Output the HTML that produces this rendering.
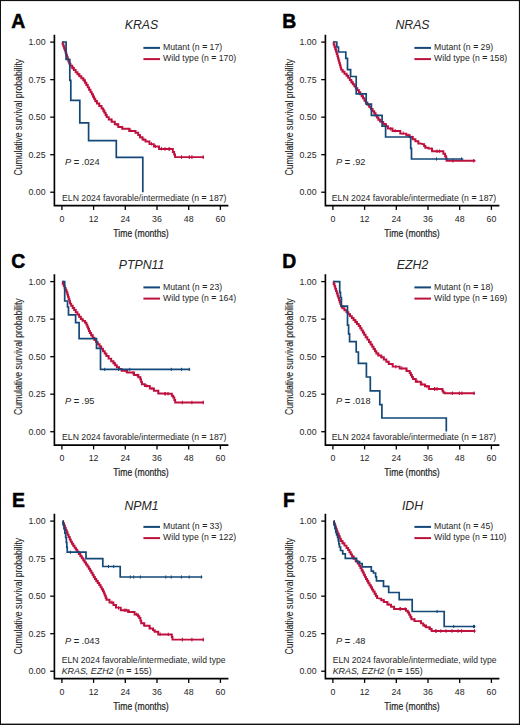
<!DOCTYPE html><html><head><meta charset="utf-8"><style>html,body{margin:0;padding:0;background:#fff;}svg{display:block;}text{font-family:"Liberation Sans",sans-serif;fill:#262626;}</style></head><body>
<svg width="520" height="725" viewBox="0 0 520 725">
<rect x="0" y="0" width="520" height="725" fill="#fff"/>
<rect x="0" y="0" width="520" height="1.1" fill="#111"/><rect x="0" y="0" width="1.0" height="725" fill="#111"/><rect x="518.9" y="0" width="1.1" height="725" fill="#111"/><rect x="0" y="723.6" width="520" height="1.4" fill="#111"/>
<g><text x="11.20" y="28.20" style="font-size:19.4px;font-weight:bold;fill:#000;stroke:#000;stroke-width:0.5">A</text><text x="141.50" y="29.10" text-anchor="middle" style="font-size:12.3px;font-style:italic">KRAS</text><line x1="143.4" y1="47.9" x2="160" y2="47.9" stroke="#134878" stroke-width="2"/><line x1="143.4" y1="59.1" x2="160" y2="59.1" stroke="#be113e" stroke-width="2"/><text x="163" y="50.2" style="font-size:8.7px">Mutant (n <tspan style="font-weight:bold">=</tspan> 17)</text><text x="163" y="61.0" style="font-size:8.7px">Wild type (n <tspan style="font-weight:bold">=</tspan> 170)</text><text transform="translate(21.50,117.20) rotate(-90) scale(0.767,1)" x="0" y="0" text-anchor="middle" style="font-size:11.3px;stroke:#262626;stroke-width:0.12">Cumulative survival probability</text><path d="M54.40 34.70 V205.60 H228.40" fill="none" stroke="#000" stroke-width="1.65"/><line x1="50.2" y1="42.10" x2="54.40" y2="42.10" stroke="#000" stroke-width="1.3"/><text x="45.6" y="45.30" text-anchor="end" style="font-size:8.8px">1.00</text><line x1="50.2" y1="79.63" x2="54.40" y2="79.63" stroke="#000" stroke-width="1.3"/><text x="45.6" y="82.83" text-anchor="end" style="font-size:8.8px">0.75</text><line x1="50.2" y1="117.16" x2="54.40" y2="117.16" stroke="#000" stroke-width="1.3"/><text x="45.6" y="120.36" text-anchor="end" style="font-size:8.8px">0.50</text><line x1="50.2" y1="154.69" x2="54.40" y2="154.69" stroke="#000" stroke-width="1.3"/><text x="45.6" y="157.89" text-anchor="end" style="font-size:8.8px">0.25</text><line x1="50.2" y1="192.22" x2="54.40" y2="192.22" stroke="#000" stroke-width="1.3"/><text x="45.6" y="195.42" text-anchor="end" style="font-size:8.8px">0.00</text><line x1="61.90" y1="205.60" x2="61.90" y2="209.90" stroke="#000" stroke-width="1.3"/><text x="61.90" y="221.80" text-anchor="middle" style="font-size:8.8px">0</text><line x1="93.60" y1="205.60" x2="93.60" y2="209.90" stroke="#000" stroke-width="1.3"/><text x="93.60" y="221.80" text-anchor="middle" style="font-size:8.8px">12</text><line x1="125.30" y1="205.60" x2="125.30" y2="209.90" stroke="#000" stroke-width="1.3"/><text x="125.30" y="221.80" text-anchor="middle" style="font-size:8.8px">24</text><line x1="157.00" y1="205.60" x2="157.00" y2="209.90" stroke="#000" stroke-width="1.3"/><text x="157.00" y="221.80" text-anchor="middle" style="font-size:8.8px">36</text><line x1="188.70" y1="205.60" x2="188.70" y2="209.90" stroke="#000" stroke-width="1.3"/><text x="188.70" y="221.80" text-anchor="middle" style="font-size:8.8px">48</text><line x1="220.40" y1="205.60" x2="220.40" y2="209.90" stroke="#000" stroke-width="1.3"/><text x="220.40" y="221.80" text-anchor="middle" style="font-size:8.8px">60</text><text transform="translate(141.00,236.90) scale(0.767,1)" x="0" y="0" text-anchor="middle" style="font-size:11.3px;stroke:#262626;stroke-width:0.25">Time (months)</text><text x="64.9" y="164.90" style="font-size:9.25px"><tspan style="font-style:italic">P</tspan> <tspan style="font-weight:bold">=</tspan> .024</text><text x="62.00" y="200.70" style="font-size:8.7px">ELN 2024 favorable/intermediate (n <tspan style="font-weight:bold">=</tspan> 187)</text><path d="M62.30 42.00 H62.66 V44.16 H63.39 V46.32 H64.12 V48.48 H64.85 V50.64 H65.58 V52.80 H66.31 V54.96 H67.05 V57.12 H67.77 V59.28 H68.50 V61.44 H69.23 V63.60 H69.60 H70.46 V65.75 H72.19 V67.90 H73.91 V70.05 H75.64 V72.20 H76.50 H77.47 V74.22 H79.42 V76.25 H81.38 V78.28 H83.33 V80.30 H84.30 H84.99 V82.66 H86.37 V85.02 H87.75 V87.38 H89.13 V89.74 H90.51 V92.10 H91.20 H91.78 V94.32 H92.92 V96.55 H94.08 V98.78 H95.22 V101.00 H95.80 H96.95 V103.50 H99.25 V106.00 H101.55 V108.50 H102.70 H103.28 V110.65 H104.42 V112.80 H105.58 V114.95 H106.72 V117.10 H107.30 H108.75 V119.40 H111.65 V121.70 H113.10 H114.82 V124.30 H118.28 V126.90 H120.00 H122.30 V128.70 H124.60 H129.20 V131.00 H133.80 H135.55 V132.70 H137.30 H138.18 V135.00 H139.93 V137.30 H140.80 H142.50 V139.60 H144.20 H145.55 V141.50 H146.90 H149.50 V144.10 H152.10 H153.85 V146.40 H155.60 H159.05 V149.00 H162.50 L172.00 149.00 H172.85 V151.90 H173.70 H174.15 V154.50 H175.05 V157.10 H175.50 L204.00 157.10" fill="none" stroke="#be113e" stroke-width="1.95" stroke-linejoin="miter"/><line x1="63.58" y1="44.09" x2="63.58" y2="47.49" stroke="#be113e" stroke-width="1"/><line x1="65.60" y1="50.05" x2="65.60" y2="53.45" stroke="#be113e" stroke-width="1"/><line x1="68.28" y1="58.00" x2="68.28" y2="61.40" stroke="#be113e" stroke-width="1"/><line x1="69.63" y1="61.93" x2="69.63" y2="65.33" stroke="#be113e" stroke-width="1"/><line x1="73.01" y1="66.15" x2="73.01" y2="69.55" stroke="#be113e" stroke-width="1"/><line x1="78.75" y1="72.83" x2="78.75" y2="76.23" stroke="#be113e" stroke-width="1"/><line x1="83.82" y1="78.11" x2="83.82" y2="81.51" stroke="#be113e" stroke-width="1"/><line x1="86.30" y1="82.01" x2="86.30" y2="85.41" stroke="#be113e" stroke-width="1"/><line x1="89.19" y1="86.97" x2="89.19" y2="90.37" stroke="#be113e" stroke-width="1"/><line x1="93.23" y1="94.33" x2="93.23" y2="97.73" stroke="#be113e" stroke-width="1"/><line x1="96.21" y1="99.75" x2="96.21" y2="103.15" stroke="#be113e" stroke-width="1"/><line x1="99.02" y1="102.80" x2="99.02" y2="106.20" stroke="#be113e" stroke-width="1"/><line x1="104.14" y1="109.48" x2="104.14" y2="112.88" stroke="#be113e" stroke-width="1"/><line x1="106.33" y1="113.58" x2="106.33" y2="116.98" stroke="#be113e" stroke-width="1"/><line x1="111.33" y1="118.60" x2="111.33" y2="122.00" stroke="#be113e" stroke-width="1"/><line x1="116.97" y1="122.91" x2="116.97" y2="126.31" stroke="#be113e" stroke-width="1"/><line x1="122.33" y1="126.11" x2="122.33" y2="129.51" stroke="#be113e" stroke-width="1"/><line x1="130.79" y1="128.55" x2="130.79" y2="131.95" stroke="#be113e" stroke-width="1"/><line x1="135.40" y1="130.08" x2="135.40" y2="133.48" stroke="#be113e" stroke-width="1"/><line x1="140.27" y1="134.91" x2="140.27" y2="138.31" stroke="#be113e" stroke-width="1"/><line x1="143.86" y1="137.67" x2="143.86" y2="141.07" stroke="#be113e" stroke-width="1"/><line x1="151.48" y1="142.09" x2="151.48" y2="145.49" stroke="#be113e" stroke-width="1"/><line x1="155.47" y1="144.61" x2="155.47" y2="148.01" stroke="#be113e" stroke-width="1"/><line x1="161.59" y1="146.96" x2="161.59" y2="150.36" stroke="#be113e" stroke-width="1"/><line x1="169.69" y1="147.30" x2="169.69" y2="150.70" stroke="#be113e" stroke-width="1"/><line x1="165" y1="147.2" x2="165" y2="150.8" stroke="#be113e" stroke-width="1.1"/><line x1="169" y1="147.2" x2="169" y2="150.8" stroke="#be113e" stroke-width="1.1"/><line x1="181.5" y1="155.29999999999998" x2="181.5" y2="158.9" stroke="#be113e" stroke-width="1.1"/><line x1="189.3" y1="155.29999999999998" x2="189.3" y2="158.9" stroke="#be113e" stroke-width="1.1"/><line x1="191.9" y1="155.29999999999998" x2="191.9" y2="158.9" stroke="#be113e" stroke-width="1.1"/><line x1="203.2" y1="155.29999999999998" x2="203.2" y2="158.9" stroke="#be113e" stroke-width="1.1"/><path d="M62.3 42 H66.1 V59.5 H69.8 V80.3 H70.8 V100.4 H79.8 V122.8 H88.6 V140.6 H116.3 V157.4 H142.8 V192.2" fill="none" stroke="#134878" stroke-width="1.7" stroke-linejoin="miter"/></g>
<g><text x="282.20" y="28.20" style="font-size:19.4px;font-weight:bold;fill:#000;stroke:#000;stroke-width:0.5">B</text><text x="412.50" y="29.10" text-anchor="middle" style="font-size:12.3px;font-style:italic">NRAS</text><line x1="414.4" y1="47.9" x2="431" y2="47.9" stroke="#134878" stroke-width="2"/><line x1="414.4" y1="59.1" x2="431" y2="59.1" stroke="#be113e" stroke-width="2"/><text x="434" y="50.2" style="font-size:8.7px">Mutant (n <tspan style="font-weight:bold">=</tspan> 29)</text><text x="434" y="61.0" style="font-size:8.7px">Wild type (n <tspan style="font-weight:bold">=</tspan> 158)</text><text transform="translate(292.50,117.20) rotate(-90) scale(0.767,1)" x="0" y="0" text-anchor="middle" style="font-size:11.3px;stroke:#262626;stroke-width:0.12">Cumulative survival probability</text><path d="M325.40 34.70 V205.60 H499.40" fill="none" stroke="#000" stroke-width="1.65"/><line x1="321.2" y1="42.10" x2="325.40" y2="42.10" stroke="#000" stroke-width="1.3"/><text x="316.6" y="45.30" text-anchor="end" style="font-size:8.8px">1.00</text><line x1="321.2" y1="79.63" x2="325.40" y2="79.63" stroke="#000" stroke-width="1.3"/><text x="316.6" y="82.83" text-anchor="end" style="font-size:8.8px">0.75</text><line x1="321.2" y1="117.16" x2="325.40" y2="117.16" stroke="#000" stroke-width="1.3"/><text x="316.6" y="120.36" text-anchor="end" style="font-size:8.8px">0.50</text><line x1="321.2" y1="154.69" x2="325.40" y2="154.69" stroke="#000" stroke-width="1.3"/><text x="316.6" y="157.89" text-anchor="end" style="font-size:8.8px">0.25</text><line x1="321.2" y1="192.22" x2="325.40" y2="192.22" stroke="#000" stroke-width="1.3"/><text x="316.6" y="195.42" text-anchor="end" style="font-size:8.8px">0.00</text><line x1="332.90" y1="205.60" x2="332.90" y2="209.90" stroke="#000" stroke-width="1.3"/><text x="332.90" y="221.80" text-anchor="middle" style="font-size:8.8px">0</text><line x1="364.60" y1="205.60" x2="364.60" y2="209.90" stroke="#000" stroke-width="1.3"/><text x="364.60" y="221.80" text-anchor="middle" style="font-size:8.8px">12</text><line x1="396.30" y1="205.60" x2="396.30" y2="209.90" stroke="#000" stroke-width="1.3"/><text x="396.30" y="221.80" text-anchor="middle" style="font-size:8.8px">24</text><line x1="428.00" y1="205.60" x2="428.00" y2="209.90" stroke="#000" stroke-width="1.3"/><text x="428.00" y="221.80" text-anchor="middle" style="font-size:8.8px">36</text><line x1="459.70" y1="205.60" x2="459.70" y2="209.90" stroke="#000" stroke-width="1.3"/><text x="459.70" y="221.80" text-anchor="middle" style="font-size:8.8px">48</text><line x1="491.40" y1="205.60" x2="491.40" y2="209.90" stroke="#000" stroke-width="1.3"/><text x="491.40" y="221.80" text-anchor="middle" style="font-size:8.8px">60</text><text transform="translate(412.00,236.90) scale(0.767,1)" x="0" y="0" text-anchor="middle" style="font-size:11.3px;stroke:#262626;stroke-width:0.25">Time (months)</text><text x="335.9" y="164.90" style="font-size:9.25px"><tspan style="font-style:italic">P</tspan> <tspan style="font-weight:bold">=</tspan> .92</text><text x="331.80" y="200.70" style="font-size:8.7px">ELN 2024 favorable/intermediate (n <tspan style="font-weight:bold">=</tspan> 187)</text><path d="M333.30 42.00 H333.68 V44.40 H334.44 V46.80 H335.20 V49.20 H335.96 V51.60 H336.72 V54.00 H337.10 H337.41 V56.23 H338.02 V58.46 H338.64 V60.69 H339.25 V62.91 H339.86 V65.14 H340.48 V67.37 H341.09 V69.60 H341.40 H342.42 V71.63 H344.45 V73.67 H346.48 V75.70 H347.50 H348.26 V77.85 H349.79 V80.00 H351.31 V82.15 H352.84 V84.30 H353.60 H354.35 V86.25 H355.85 V88.20 H357.35 V90.15 H358.85 V92.10 H359.60 H360.29 V94.18 H361.67 V96.26 H363.05 V98.34 H364.43 V100.42 H365.81 V102.50 H366.50 H367.38 V104.67 H369.12 V106.85 H370.88 V109.03 H372.62 V111.20 H373.50 H374.19 V113.33 H375.56 V115.45 H376.94 V117.58 H378.31 V119.70 H379.00 H380.43 V121.85 H383.27 V124.00 H384.70 H385.77 V126.20 H387.93 V128.40 H389.00 H392.50 V131.00 H396.00 H400.30 V133.60 H404.60 H406.33 V135.30 H409.77 V137.00 H411.50 H412.80 V139.15 H415.40 V141.30 H416.70 H418.35 V143.40 H420.00 L423.50 144.20 H424.12 V145.95 H425.38 V147.70 H426.00 H428.60 V148.60 H431.20 H432.10 V151.20 H433.00 L442.50 151.20 H443.35 V153.70 H444.20 H445.10 V156.30 H446.00 H446.20 V158.55 H446.60 V160.80 H446.80 L475.40 160.80" fill="none" stroke="#be113e" stroke-width="1.95" stroke-linejoin="miter"/><line x1="334.51" y1="44.11" x2="334.51" y2="47.51" stroke="#be113e" stroke-width="1"/><line x1="335.93" y1="48.60" x2="335.93" y2="52.00" stroke="#be113e" stroke-width="1"/><line x1="338.43" y1="57.13" x2="338.43" y2="60.53" stroke="#be113e" stroke-width="1"/><line x1="340.35" y1="64.08" x2="340.35" y2="67.48" stroke="#be113e" stroke-width="1"/><line x1="343.01" y1="69.51" x2="343.01" y2="72.91" stroke="#be113e" stroke-width="1"/><line x1="347.59" y1="74.13" x2="347.59" y2="77.53" stroke="#be113e" stroke-width="1"/><line x1="352.07" y1="80.44" x2="352.07" y2="83.84" stroke="#be113e" stroke-width="1"/><line x1="354.64" y1="83.95" x2="354.64" y2="87.35" stroke="#be113e" stroke-width="1"/><line x1="358.89" y1="89.47" x2="358.89" y2="92.87" stroke="#be113e" stroke-width="1"/><line x1="362.47" y1="94.72" x2="362.47" y2="98.12" stroke="#be113e" stroke-width="1"/><line x1="364.82" y1="98.27" x2="364.82" y2="101.67" stroke="#be113e" stroke-width="1"/><line x1="369.82" y1="104.92" x2="369.82" y2="108.32" stroke="#be113e" stroke-width="1"/><line x1="374.71" y1="111.37" x2="374.71" y2="114.77" stroke="#be113e" stroke-width="1"/><line x1="379.47" y1="118.35" x2="379.47" y2="121.75" stroke="#be113e" stroke-width="1"/><line x1="386.09" y1="123.73" x2="386.09" y2="127.13" stroke="#be113e" stroke-width="1"/><line x1="390.65" y1="127.31" x2="390.65" y2="130.71" stroke="#be113e" stroke-width="1"/><line x1="395.13" y1="128.98" x2="395.13" y2="132.38" stroke="#be113e" stroke-width="1"/><line x1="403.12" y1="131.45" x2="403.12" y2="134.85" stroke="#be113e" stroke-width="1"/><line x1="408.33" y1="133.74" x2="408.33" y2="137.14" stroke="#be113e" stroke-width="1"/><line x1="412.15" y1="135.84" x2="412.15" y2="139.24" stroke="#be113e" stroke-width="1"/><line x1="418.41" y1="140.69" x2="418.41" y2="144.09" stroke="#be113e" stroke-width="1"/><line x1="424.50" y1="143.90" x2="424.50" y2="147.30" stroke="#be113e" stroke-width="1"/><line x1="431.64" y1="147.54" x2="431.64" y2="150.94" stroke="#be113e" stroke-width="1"/><line x1="439.53" y1="149.50" x2="439.53" y2="152.90" stroke="#be113e" stroke-width="1"/><line x1="437" y1="149.39999999999998" x2="437" y2="153.0" stroke="#be113e" stroke-width="1.1"/><line x1="452.9" y1="159.0" x2="452.9" y2="162.60000000000002" stroke="#be113e" stroke-width="1.1"/><line x1="473.7" y1="159.0" x2="473.7" y2="162.60000000000002" stroke="#be113e" stroke-width="1.1"/><path d="M333.3 42 H336.8 V47 H338.5 V52 H345.8 V58.4 H347.5 V69.6 H350.6 V76.5 H356.2 V93.8 H366.2 V104.2 H371.4 V115.4 H382.1 V126.1 H385.6 V137 H410.7 V148.3 H411.5 V159 H463.3" fill="none" stroke="#134878" stroke-width="1.7" stroke-linejoin="miter"/><line x1="436.5" y1="157.4" x2="436.5" y2="160.6" stroke="#134878" stroke-width="1.0"/><line x1="461.5" y1="157.4" x2="461.5" y2="160.6" stroke="#134878" stroke-width="1.0"/></g>
<g><text x="11.20" y="267.70" style="font-size:19.4px;font-weight:bold;fill:#000;stroke:#000;stroke-width:0.5">C</text><text x="141.50" y="269.40" text-anchor="middle" style="font-size:12.3px;font-style:italic">PTPN11</text><line x1="143.4" y1="287.4" x2="160" y2="287.4" stroke="#134878" stroke-width="2"/><line x1="143.4" y1="298.6" x2="160" y2="298.6" stroke="#be113e" stroke-width="2"/><text x="163" y="289.7" style="font-size:8.7px">Mutant (n <tspan style="font-weight:bold">=</tspan> 23)</text><text x="163" y="300.5" style="font-size:8.7px">Wild type (n <tspan style="font-weight:bold">=</tspan> 164)</text><text transform="translate(21.50,356.70) rotate(-90) scale(0.767,1)" x="0" y="0" text-anchor="middle" style="font-size:11.3px;stroke:#262626;stroke-width:0.12">Cumulative survival probability</text><path d="M54.40 274.20 V445.10 H228.40" fill="none" stroke="#000" stroke-width="1.65"/><line x1="50.2" y1="281.60" x2="54.40" y2="281.60" stroke="#000" stroke-width="1.3"/><text x="45.6" y="284.80" text-anchor="end" style="font-size:8.8px">1.00</text><line x1="50.2" y1="319.13" x2="54.40" y2="319.13" stroke="#000" stroke-width="1.3"/><text x="45.6" y="322.33" text-anchor="end" style="font-size:8.8px">0.75</text><line x1="50.2" y1="356.66" x2="54.40" y2="356.66" stroke="#000" stroke-width="1.3"/><text x="45.6" y="359.86" text-anchor="end" style="font-size:8.8px">0.50</text><line x1="50.2" y1="394.19" x2="54.40" y2="394.19" stroke="#000" stroke-width="1.3"/><text x="45.6" y="397.39" text-anchor="end" style="font-size:8.8px">0.25</text><line x1="50.2" y1="431.72" x2="54.40" y2="431.72" stroke="#000" stroke-width="1.3"/><text x="45.6" y="434.92" text-anchor="end" style="font-size:8.8px">0.00</text><line x1="61.90" y1="445.10" x2="61.90" y2="449.40" stroke="#000" stroke-width="1.3"/><text x="61.90" y="461.30" text-anchor="middle" style="font-size:8.8px">0</text><line x1="93.60" y1="445.10" x2="93.60" y2="449.40" stroke="#000" stroke-width="1.3"/><text x="93.60" y="461.30" text-anchor="middle" style="font-size:8.8px">12</text><line x1="125.30" y1="445.10" x2="125.30" y2="449.40" stroke="#000" stroke-width="1.3"/><text x="125.30" y="461.30" text-anchor="middle" style="font-size:8.8px">24</text><line x1="157.00" y1="445.10" x2="157.00" y2="449.40" stroke="#000" stroke-width="1.3"/><text x="157.00" y="461.30" text-anchor="middle" style="font-size:8.8px">36</text><line x1="188.70" y1="445.10" x2="188.70" y2="449.40" stroke="#000" stroke-width="1.3"/><text x="188.70" y="461.30" text-anchor="middle" style="font-size:8.8px">48</text><line x1="220.40" y1="445.10" x2="220.40" y2="449.40" stroke="#000" stroke-width="1.3"/><text x="220.40" y="461.30" text-anchor="middle" style="font-size:8.8px">60</text><text transform="translate(141.00,476.40) scale(0.767,1)" x="0" y="0" text-anchor="middle" style="font-size:11.3px;stroke:#262626;stroke-width:0.25">Time (months)</text><text x="64.9" y="404.40" style="font-size:9.25px"><tspan style="font-style:italic">P</tspan> <tspan style="font-weight:bold">=</tspan> .95</text><text x="62.00" y="440.20" style="font-size:8.7px">ELN 2024 favorable/intermediate (n <tspan style="font-weight:bold">=</tspan> 187)</text><path d="M62.30 281.60 H62.77 V283.74 H63.71 V285.88 H64.65 V288.02 H65.59 V290.16 H66.53 V292.30 H67.00 H67.34 V294.56 H68.02 V296.82 H68.70 V299.08 H69.38 V301.34 H70.06 V303.60 H70.40 H71.16 V305.75 H72.69 V307.90 H74.21 V310.05 H75.74 V312.20 H76.50 H77.37 V314.50 H79.10 V316.80 H80.83 V319.10 H81.70 H82.78 V320.85 H84.92 V322.60 H86.00 H86.43 V324.68 H87.29 V326.76 H88.15 V328.84 H89.01 V330.92 H89.87 V333.00 H90.30 H91.12 V335.33 H92.75 V337.67 H94.38 V340.00 H95.20 H96.07 V342.13 H97.80 V344.27 H99.53 V346.40 H100.40 H101.26 V348.80 H102.99 V351.20 H104.71 V353.60 H106.44 V356.00 H107.30 H108.60 V358.60 H111.20 V361.20 H112.50 H113.37 V363.20 H115.10 V365.20 H116.83 V367.20 H117.70 H119.00 V368.95 H121.60 V370.70 H122.90 H127.20 V372.40 H131.50 H134.10 V375.00 H136.70 H138.35 V377.20 H140.00 H140.38 V379.57 H141.15 V381.93 H141.92 V384.30 H142.30 H144.90 V386.00 H147.50 H149.80 V388.50 H152.10 H153.90 V390.80 H155.70 H158.35 V393.50 H161.00 L171.20 393.80 H171.88 V395.65 H173.22 V397.50 H173.90 H174.32 V400.00 H175.18 V402.50 H175.60 L204.00 402.50" fill="none" stroke="#be113e" stroke-width="1.95" stroke-linejoin="miter"/><line x1="63.91" y1="283.56" x2="63.91" y2="286.96" stroke="#be113e" stroke-width="1"/><line x1="66.14" y1="288.63" x2="66.14" y2="292.03" stroke="#be113e" stroke-width="1"/><line x1="68.29" y1="294.87" x2="68.29" y2="298.27" stroke="#be113e" stroke-width="1"/><line x1="69.88" y1="300.17" x2="69.88" y2="303.57" stroke="#be113e" stroke-width="1"/><line x1="74.24" y1="307.31" x2="74.24" y2="310.71" stroke="#be113e" stroke-width="1"/><line x1="79.48" y1="314.45" x2="79.48" y2="317.85" stroke="#be113e" stroke-width="1"/><line x1="82.19" y1="317.80" x2="82.19" y2="321.20" stroke="#be113e" stroke-width="1"/><line x1="85.31" y1="320.34" x2="85.31" y2="323.74" stroke="#be113e" stroke-width="1"/><line x1="88.42" y1="326.76" x2="88.42" y2="330.16" stroke="#be113e" stroke-width="1"/><line x1="92.16" y1="333.95" x2="92.16" y2="337.35" stroke="#be113e" stroke-width="1"/><line x1="96.64" y1="340.07" x2="96.64" y2="343.47" stroke="#be113e" stroke-width="1"/><line x1="100.98" y1="345.51" x2="100.98" y2="348.91" stroke="#be113e" stroke-width="1"/><line x1="105.69" y1="352.05" x2="105.69" y2="355.45" stroke="#be113e" stroke-width="1"/><line x1="108.44" y1="355.44" x2="108.44" y2="358.84" stroke="#be113e" stroke-width="1"/><line x1="113.82" y1="361.02" x2="113.82" y2="364.42" stroke="#be113e" stroke-width="1"/><line x1="119.37" y1="366.62" x2="119.37" y2="370.02" stroke="#be113e" stroke-width="1"/><line x1="126.12" y1="369.64" x2="126.12" y2="373.04" stroke="#be113e" stroke-width="1"/><line x1="132.88" y1="371.39" x2="132.88" y2="374.79" stroke="#be113e" stroke-width="1"/><line x1="137.21" y1="373.64" x2="137.21" y2="377.04" stroke="#be113e" stroke-width="1"/><line x1="140.26" y1="376.29" x2="140.26" y2="379.69" stroke="#be113e" stroke-width="1"/><line x1="141.98" y1="381.61" x2="141.98" y2="385.01" stroke="#be113e" stroke-width="1"/><line x1="146.78" y1="384.06" x2="146.78" y2="387.46" stroke="#be113e" stroke-width="1"/><line x1="151.99" y1="386.74" x2="151.99" y2="390.14" stroke="#be113e" stroke-width="1"/><line x1="158.12" y1="390.33" x2="158.12" y2="393.73" stroke="#be113e" stroke-width="1"/><line x1="165.32" y1="391.93" x2="165.32" y2="395.33" stroke="#be113e" stroke-width="1"/><line x1="165" y1="391.9" x2="165" y2="395.5" stroke="#be113e" stroke-width="1.1"/><line x1="168" y1="391.9" x2="168" y2="395.5" stroke="#be113e" stroke-width="1.1"/><line x1="182.4" y1="400.7" x2="182.4" y2="404.3" stroke="#be113e" stroke-width="1.1"/><line x1="191.9" y1="400.7" x2="191.9" y2="404.3" stroke="#be113e" stroke-width="1.1"/><line x1="203.2" y1="400.7" x2="203.2" y2="404.3" stroke="#be113e" stroke-width="1.1"/><path d="M62.3 281.6 H64.7 V301 H67.5 V307 H68.5 V314.8 H75.6 V322.6 H79.1 V338.7 H96.5 V348.4 H100.5 V369.4 H190.2" fill="none" stroke="#134878" stroke-width="1.7" stroke-linejoin="miter"/><line x1="104.7" y1="367.79999999999995" x2="104.7" y2="371.0" stroke="#134878" stroke-width="1.0"/><line x1="118.6" y1="367.79999999999995" x2="118.6" y2="371.0" stroke="#134878" stroke-width="1.0"/><line x1="129.8" y1="367.79999999999995" x2="129.8" y2="371.0" stroke="#134878" stroke-width="1.0"/><line x1="171.3" y1="367.79999999999995" x2="171.3" y2="371.0" stroke="#134878" stroke-width="1.0"/><line x1="181.5" y1="367.79999999999995" x2="181.5" y2="371.0" stroke="#134878" stroke-width="1.0"/><line x1="189.3" y1="367.79999999999995" x2="189.3" y2="371.0" stroke="#134878" stroke-width="1.0"/></g>
<g><text x="282.20" y="267.70" style="font-size:19.4px;font-weight:bold;fill:#000;stroke:#000;stroke-width:0.5">D</text><text x="412.50" y="269.40" text-anchor="middle" style="font-size:12.3px;font-style:italic">EZH2</text><line x1="414.4" y1="287.4" x2="431" y2="287.4" stroke="#134878" stroke-width="2"/><line x1="414.4" y1="298.6" x2="431" y2="298.6" stroke="#be113e" stroke-width="2"/><text x="434" y="289.7" style="font-size:8.7px">Mutant (n <tspan style="font-weight:bold">=</tspan> 18)</text><text x="434" y="300.5" style="font-size:8.7px">Wild type (n <tspan style="font-weight:bold">=</tspan> 169)</text><text transform="translate(292.50,356.70) rotate(-90) scale(0.767,1)" x="0" y="0" text-anchor="middle" style="font-size:11.3px;stroke:#262626;stroke-width:0.12">Cumulative survival probability</text><path d="M325.40 274.20 V445.10 H499.40" fill="none" stroke="#000" stroke-width="1.65"/><line x1="321.2" y1="281.60" x2="325.40" y2="281.60" stroke="#000" stroke-width="1.3"/><text x="316.6" y="284.80" text-anchor="end" style="font-size:8.8px">1.00</text><line x1="321.2" y1="319.13" x2="325.40" y2="319.13" stroke="#000" stroke-width="1.3"/><text x="316.6" y="322.33" text-anchor="end" style="font-size:8.8px">0.75</text><line x1="321.2" y1="356.66" x2="325.40" y2="356.66" stroke="#000" stroke-width="1.3"/><text x="316.6" y="359.86" text-anchor="end" style="font-size:8.8px">0.50</text><line x1="321.2" y1="394.19" x2="325.40" y2="394.19" stroke="#000" stroke-width="1.3"/><text x="316.6" y="397.39" text-anchor="end" style="font-size:8.8px">0.25</text><line x1="321.2" y1="431.72" x2="325.40" y2="431.72" stroke="#000" stroke-width="1.3"/><text x="316.6" y="434.92" text-anchor="end" style="font-size:8.8px">0.00</text><line x1="332.90" y1="445.10" x2="332.90" y2="449.40" stroke="#000" stroke-width="1.3"/><text x="332.90" y="461.30" text-anchor="middle" style="font-size:8.8px">0</text><line x1="364.60" y1="445.10" x2="364.60" y2="449.40" stroke="#000" stroke-width="1.3"/><text x="364.60" y="461.30" text-anchor="middle" style="font-size:8.8px">12</text><line x1="396.30" y1="445.10" x2="396.30" y2="449.40" stroke="#000" stroke-width="1.3"/><text x="396.30" y="461.30" text-anchor="middle" style="font-size:8.8px">24</text><line x1="428.00" y1="445.10" x2="428.00" y2="449.40" stroke="#000" stroke-width="1.3"/><text x="428.00" y="461.30" text-anchor="middle" style="font-size:8.8px">36</text><line x1="459.70" y1="445.10" x2="459.70" y2="449.40" stroke="#000" stroke-width="1.3"/><text x="459.70" y="461.30" text-anchor="middle" style="font-size:8.8px">48</text><line x1="491.40" y1="445.10" x2="491.40" y2="449.40" stroke="#000" stroke-width="1.3"/><text x="491.40" y="461.30" text-anchor="middle" style="font-size:8.8px">60</text><text transform="translate(412.00,476.40) scale(0.767,1)" x="0" y="0" text-anchor="middle" style="font-size:11.3px;stroke:#262626;stroke-width:0.25">Time (months)</text><text x="335.9" y="404.40" style="font-size:9.25px"><tspan style="font-style:italic">P</tspan> <tspan style="font-weight:bold">=</tspan> .018</text><text x="331.80" y="440.20" style="font-size:8.7px">ELN 2024 favorable/intermediate (n <tspan style="font-weight:bold">=</tspan> 187)</text><path d="M333.30 281.60 H333.69 V283.97 H334.48 V286.33 H335.26 V288.70 H336.04 V291.07 H336.82 V293.43 H337.61 V295.80 H338.00 H338.34 V297.88 H339.02 V299.96 H339.70 V302.04 H340.38 V304.12 H341.06 V306.20 H341.40 H342.42 V308.20 H344.45 V310.20 H346.48 V312.20 H347.50 H348.36 V314.15 H350.09 V316.10 H351.81 V318.05 H353.54 V320.00 H354.40 H355.27 V322.00 H357.00 V324.00 H358.73 V326.00 H359.60 H360.25 V328.18 H361.55 V330.35 H362.85 V332.52 H364.15 V334.70 H364.80 H365.64 V337.15 H367.31 V339.60 H368.99 V342.05 H370.66 V344.50 H371.50 H372.19 V346.75 H373.56 V349.00 H374.94 V351.25 H376.31 V353.50 H377.00 H378.40 V355.40 H381.20 V357.30 H382.60 H383.83 V359.53 H386.30 V361.77 H388.77 V364.00 H390.00 H392.70 V366.60 H395.40 H399.70 V368.40 H404.00 H406.60 V371.00 H409.20 H409.74 V373.00 H410.81 V375.00 H411.89 V377.00 H412.96 V379.00 H413.50 H415.75 V381.70 H418.00 H420.75 V384.50 H423.50 H425.00 V386.30 H426.50 H429.05 V388.90 H431.60 L442.00 388.90 H442.43 V390.65 H443.27 V392.40 H443.70 H444.60 V393.30 H445.50 L474.90 393.30" fill="none" stroke="#be113e" stroke-width="1.95" stroke-linejoin="miter"/><line x1="334.56" y1="283.70" x2="334.56" y2="287.10" stroke="#be113e" stroke-width="1"/><line x1="336.19" y1="288.64" x2="336.19" y2="292.04" stroke="#be113e" stroke-width="1"/><line x1="337.60" y1="292.90" x2="337.60" y2="296.30" stroke="#be113e" stroke-width="1"/><line x1="339.88" y1="299.87" x2="339.88" y2="303.27" stroke="#be113e" stroke-width="1"/><line x1="341.64" y1="304.74" x2="341.64" y2="308.14" stroke="#be113e" stroke-width="1"/><line x1="346.72" y1="309.73" x2="346.72" y2="313.13" stroke="#be113e" stroke-width="1"/><line x1="349.93" y1="313.25" x2="349.93" y2="316.65" stroke="#be113e" stroke-width="1"/><line x1="355.82" y1="319.94" x2="355.82" y2="323.34" stroke="#be113e" stroke-width="1"/><line x1="360.42" y1="325.67" x2="360.42" y2="329.07" stroke="#be113e" stroke-width="1"/><line x1="363.23" y1="330.37" x2="363.23" y2="333.77" stroke="#be113e" stroke-width="1"/><line x1="365.51" y1="334.03" x2="365.51" y2="337.43" stroke="#be113e" stroke-width="1"/><line x1="370.13" y1="340.79" x2="370.13" y2="344.19" stroke="#be113e" stroke-width="1"/><line x1="374.66" y1="347.97" x2="374.66" y2="351.37" stroke="#be113e" stroke-width="1"/><line x1="377.99" y1="352.47" x2="377.99" y2="355.87" stroke="#be113e" stroke-width="1"/><line x1="381.74" y1="355.02" x2="381.74" y2="358.42" stroke="#be113e" stroke-width="1"/><line x1="388.42" y1="360.87" x2="388.42" y2="364.27" stroke="#be113e" stroke-width="1"/><line x1="395.74" y1="364.97" x2="395.74" y2="368.37" stroke="#be113e" stroke-width="1"/><line x1="401.92" y1="366.26" x2="401.92" y2="369.66" stroke="#be113e" stroke-width="1"/><line x1="406.17" y1="367.78" x2="406.17" y2="371.18" stroke="#be113e" stroke-width="1"/><line x1="411.27" y1="373.15" x2="411.27" y2="376.55" stroke="#be113e" stroke-width="1"/><line x1="417.05" y1="379.43" x2="417.05" y2="382.83" stroke="#be113e" stroke-width="1"/><line x1="421.92" y1="382.00" x2="421.92" y2="385.40" stroke="#be113e" stroke-width="1"/><line x1="427.01" y1="384.86" x2="427.01" y2="388.26" stroke="#be113e" stroke-width="1"/><line x1="434.80" y1="387.20" x2="434.80" y2="390.60" stroke="#be113e" stroke-width="1"/><line x1="434.5" y1="387.09999999999997" x2="434.5" y2="390.7" stroke="#be113e" stroke-width="1.1"/><line x1="437" y1="387.09999999999997" x2="437" y2="390.7" stroke="#be113e" stroke-width="1.1"/><line x1="452.4" y1="391.5" x2="452.4" y2="395.1" stroke="#be113e" stroke-width="1.1"/><line x1="459.3" y1="391.5" x2="459.3" y2="395.1" stroke="#be113e" stroke-width="1.1"/><line x1="461.9" y1="391.5" x2="461.9" y2="395.1" stroke="#be113e" stroke-width="1.1"/><line x1="474" y1="391.5" x2="474" y2="395.1" stroke="#be113e" stroke-width="1.1"/><path d="M333.3 281.6 H339.7 V292.3 H340.5 V297.5 H341.4 V306.2 H347.5 V325.2 H348.6 V333.8 H349.6 V341.6 H356.2 V352 H358.4 V363.4 H366.4 V377 H370.3 V390.9 H379.8 V404.7 H381.9 V418 H446.3 V431.5" fill="none" stroke="#134878" stroke-width="1.7" stroke-linejoin="miter"/></g>
<g><text x="12.00" y="507.20" style="font-size:19.4px;font-weight:bold;fill:#000;stroke:#000;stroke-width:0.5">E</text><text x="141.50" y="509.70" text-anchor="middle" style="font-size:12.3px;font-style:italic">NPM1</text><line x1="143.4" y1="526.9" x2="160" y2="526.9" stroke="#134878" stroke-width="2"/><line x1="143.4" y1="538.1" x2="160" y2="538.1" stroke="#be113e" stroke-width="2"/><text x="163" y="529.2" style="font-size:8.7px">Mutant (n <tspan style="font-weight:bold">=</tspan> 33)</text><text x="163" y="540.0" style="font-size:8.7px">Wild type (n <tspan style="font-weight:bold">=</tspan> 122)</text><text transform="translate(21.50,596.20) rotate(-90) scale(0.767,1)" x="0" y="0" text-anchor="middle" style="font-size:11.3px;stroke:#262626;stroke-width:0.12">Cumulative survival probability</text><path d="M54.40 513.70 V678.60 H228.40" fill="none" stroke="#000" stroke-width="1.65"/><line x1="50.2" y1="521.10" x2="54.40" y2="521.10" stroke="#000" stroke-width="1.3"/><text x="45.6" y="524.30" text-anchor="end" style="font-size:8.8px">1.00</text><line x1="50.2" y1="558.63" x2="54.40" y2="558.63" stroke="#000" stroke-width="1.3"/><text x="45.6" y="561.83" text-anchor="end" style="font-size:8.8px">0.75</text><line x1="50.2" y1="596.16" x2="54.40" y2="596.16" stroke="#000" stroke-width="1.3"/><text x="45.6" y="599.36" text-anchor="end" style="font-size:8.8px">0.50</text><line x1="50.2" y1="633.69" x2="54.40" y2="633.69" stroke="#000" stroke-width="1.3"/><text x="45.6" y="636.89" text-anchor="end" style="font-size:8.8px">0.25</text><line x1="50.2" y1="671.22" x2="54.40" y2="671.22" stroke="#000" stroke-width="1.3"/><text x="45.6" y="674.42" text-anchor="end" style="font-size:8.8px">0.00</text><line x1="61.90" y1="678.60" x2="61.90" y2="682.90" stroke="#000" stroke-width="1.3"/><text x="61.90" y="694.80" text-anchor="middle" style="font-size:8.8px">0</text><line x1="93.60" y1="678.60" x2="93.60" y2="682.90" stroke="#000" stroke-width="1.3"/><text x="93.60" y="694.80" text-anchor="middle" style="font-size:8.8px">12</text><line x1="125.30" y1="678.60" x2="125.30" y2="682.90" stroke="#000" stroke-width="1.3"/><text x="125.30" y="694.80" text-anchor="middle" style="font-size:8.8px">24</text><line x1="157.00" y1="678.60" x2="157.00" y2="682.90" stroke="#000" stroke-width="1.3"/><text x="157.00" y="694.80" text-anchor="middle" style="font-size:8.8px">36</text><line x1="188.70" y1="678.60" x2="188.70" y2="682.90" stroke="#000" stroke-width="1.3"/><text x="188.70" y="694.80" text-anchor="middle" style="font-size:8.8px">48</text><line x1="220.40" y1="678.60" x2="220.40" y2="682.90" stroke="#000" stroke-width="1.3"/><text x="220.40" y="694.80" text-anchor="middle" style="font-size:8.8px">60</text><text transform="translate(141.00,709.90) scale(0.767,1)" x="0" y="0" text-anchor="middle" style="font-size:11.3px;stroke:#262626;stroke-width:0.25">Time (months)</text><text x="64.9" y="643.90" style="font-size:9.25px"><tspan style="font-style:italic">P</tspan> <tspan style="font-weight:bold">=</tspan> .043</text><text x="61.7" y="662.90" style="font-size:8.6px">ELN 2024 favorable/intermediate, wild type</text><text x="61.7" y="673.50" style="font-size:8.9px"><tspan style="font-style:italic">KRAS, EZH2</tspan> (n <tspan style="font-weight:bold">=</tspan> 155)</text><path d="M62.70 521.10 H63.13 V523.34 H63.99 V525.58 H64.85 V527.82 H65.71 V530.06 H66.57 V532.30 H67.00 H67.54 V534.67 H68.61 V537.05 H69.69 V539.42 H70.76 V541.80 H71.30 H71.95 V543.75 H73.25 V545.70 H74.55 V547.65 H75.85 V549.60 H76.50 H77.26 V551.77 H78.79 V553.95 H80.31 V556.12 H81.84 V558.30 H82.60 H83.29 V560.38 H84.67 V562.46 H86.05 V564.54 H87.43 V566.62 H88.81 V568.70 H89.50 H90.10 V570.76 H91.30 V572.82 H92.50 V574.88 H93.70 V576.94 H94.90 V579.00 H95.50 H96.25 V581.03 H97.75 V583.07 H99.25 V585.10 H100.00 H100.58 V587.13 H101.75 V589.17 H102.92 V591.20 H103.50 H103.92 V593.35 H104.78 V595.50 H105.62 V597.65 H106.48 V599.80 H106.90 H109.50 V602.40 H112.10 H113.40 V605.00 H116.00 V607.60 H117.30 H120.75 V610.20 H124.20 H128.10 V611.90 H132.00 H134.60 V614.50 H137.20 H137.90 V616.25 H139.30 V618.00 H140.00 H140.40 V620.60 H141.20 V623.20 H141.60 H144.30 V625.80 H147.00 H149.55 V628.40 H152.10 H152.97 V630.10 H154.72 V631.80 H155.60 H158.20 V634.40 H160.80 L171.50 634.40 H171.82 V637.00 H172.48 V639.60 H172.80 L204.00 639.60" fill="none" stroke="#be113e" stroke-width="1.95" stroke-linejoin="miter"/><line x1="64.13" y1="523.13" x2="64.13" y2="526.53" stroke="#be113e" stroke-width="1"/><line x1="66.79" y1="530.06" x2="66.79" y2="533.46" stroke="#be113e" stroke-width="1"/><line x1="69.55" y1="536.23" x2="69.55" y2="539.63" stroke="#be113e" stroke-width="1"/><line x1="73.28" y1="543.07" x2="73.28" y2="546.47" stroke="#be113e" stroke-width="1"/><line x1="76.64" y1="548.09" x2="76.64" y2="551.49" stroke="#be113e" stroke-width="1"/><line x1="81.18" y1="554.57" x2="81.18" y2="557.97" stroke="#be113e" stroke-width="1"/><line x1="83.87" y1="558.52" x2="83.87" y2="561.92" stroke="#be113e" stroke-width="1"/><line x1="88.46" y1="565.43" x2="88.46" y2="568.83" stroke="#be113e" stroke-width="1"/><line x1="92.83" y1="572.72" x2="92.83" y2="576.12" stroke="#be113e" stroke-width="1"/><line x1="96.61" y1="578.81" x2="96.61" y2="582.21" stroke="#be113e" stroke-width="1"/><line x1="100.53" y1="584.32" x2="100.53" y2="587.72" stroke="#be113e" stroke-width="1"/><line x1="102.91" y1="588.48" x2="102.91" y2="591.88" stroke="#be113e" stroke-width="1"/><line x1="105.86" y1="595.48" x2="105.86" y2="598.88" stroke="#be113e" stroke-width="1"/><line x1="111.87" y1="600.59" x2="111.87" y2="603.99" stroke="#be113e" stroke-width="1"/><line x1="118.52" y1="606.36" x2="118.52" y2="609.76" stroke="#be113e" stroke-width="1"/><line x1="124.22" y1="608.50" x2="124.22" y2="611.90" stroke="#be113e" stroke-width="1"/><line x1="129.31" y1="609.61" x2="129.31" y2="613.01" stroke="#be113e" stroke-width="1"/><line x1="136.71" y1="612.56" x2="136.71" y2="615.96" stroke="#be113e" stroke-width="1"/><line x1="140.45" y1="617.75" x2="140.45" y2="621.15" stroke="#be113e" stroke-width="1"/><line x1="143.63" y1="622.48" x2="143.63" y2="625.88" stroke="#be113e" stroke-width="1"/><line x1="149.86" y1="625.56" x2="149.86" y2="628.96" stroke="#be113e" stroke-width="1"/><line x1="153.50" y1="628.06" x2="153.50" y2="631.46" stroke="#be113e" stroke-width="1"/><line x1="160.10" y1="632.35" x2="160.10" y2="635.75" stroke="#be113e" stroke-width="1"/><line x1="168.30" y1="632.70" x2="168.30" y2="636.10" stroke="#be113e" stroke-width="1"/><line x1="126" y1="608.4000000000001" x2="126" y2="612.0" stroke="#be113e" stroke-width="1.1"/><line x1="182.4" y1="637.8000000000001" x2="182.4" y2="641.4" stroke="#be113e" stroke-width="1.1"/><line x1="191.9" y1="637.8000000000001" x2="191.9" y2="641.4" stroke="#be113e" stroke-width="1.1"/><line x1="203.2" y1="637.8000000000001" x2="203.2" y2="641.4" stroke="#be113e" stroke-width="1.1"/><path d="M62.70 521.10 H63.12 V524.95 H63.98 V528.80 H64.40 H64.83 V533.15 H65.67 V537.50 H66.10 H66.33 V542.40 H66.80 V547.30 H67.27 V552.20 H67.50 L86.00 552.20 L86.00 558.60 L102.80 558.60 L102.80 566.50 L120.20 566.50 L120.20 577.00 L202.30 577.00" fill="none" stroke="#134878" stroke-width="1.7" stroke-linejoin="miter"/><line x1="70.4" y1="550.6" x2="70.4" y2="553.8000000000001" stroke="#134878" stroke-width="1.0"/><line x1="108.5" y1="564.9" x2="108.5" y2="568.1" stroke="#134878" stroke-width="1.0"/><line x1="113.7" y1="564.9" x2="113.7" y2="568.1" stroke="#134878" stroke-width="1.0"/><line x1="130.3" y1="575.4" x2="130.3" y2="578.6" stroke="#134878" stroke-width="1.0"/><line x1="133.7" y1="575.4" x2="133.7" y2="578.6" stroke="#134878" stroke-width="1.0"/><line x1="140.3" y1="575.4" x2="140.3" y2="578.6" stroke="#134878" stroke-width="1.0"/><line x1="165.8" y1="575.4" x2="165.8" y2="578.6" stroke="#134878" stroke-width="1.0"/><line x1="171.2" y1="575.4" x2="171.2" y2="578.6" stroke="#134878" stroke-width="1.0"/><line x1="181.4" y1="575.4" x2="181.4" y2="578.6" stroke="#134878" stroke-width="1.0"/><line x1="189.2" y1="575.4" x2="189.2" y2="578.6" stroke="#134878" stroke-width="1.0"/><line x1="201.4" y1="575.4" x2="201.4" y2="578.6" stroke="#134878" stroke-width="1.0"/></g>
<g><text x="283.00" y="507.20" style="font-size:19.4px;font-weight:bold;fill:#000;stroke:#000;stroke-width:0.5">F</text><text x="412.50" y="509.70" text-anchor="middle" style="font-size:12.3px;font-style:italic">IDH</text><line x1="414.4" y1="526.9" x2="431" y2="526.9" stroke="#134878" stroke-width="2"/><line x1="414.4" y1="538.1" x2="431" y2="538.1" stroke="#be113e" stroke-width="2"/><text x="434" y="529.2" style="font-size:8.7px">Mutant (n <tspan style="font-weight:bold">=</tspan> 45)</text><text x="434" y="540.0" style="font-size:8.7px">Wild type (n <tspan style="font-weight:bold">=</tspan> 110)</text><text transform="translate(292.50,596.20) rotate(-90) scale(0.767,1)" x="0" y="0" text-anchor="middle" style="font-size:11.3px;stroke:#262626;stroke-width:0.12">Cumulative survival probability</text><path d="M325.40 513.70 V678.60 H499.40" fill="none" stroke="#000" stroke-width="1.65"/><line x1="321.2" y1="521.10" x2="325.40" y2="521.10" stroke="#000" stroke-width="1.3"/><text x="316.6" y="524.30" text-anchor="end" style="font-size:8.8px">1.00</text><line x1="321.2" y1="558.63" x2="325.40" y2="558.63" stroke="#000" stroke-width="1.3"/><text x="316.6" y="561.83" text-anchor="end" style="font-size:8.8px">0.75</text><line x1="321.2" y1="596.16" x2="325.40" y2="596.16" stroke="#000" stroke-width="1.3"/><text x="316.6" y="599.36" text-anchor="end" style="font-size:8.8px">0.50</text><line x1="321.2" y1="633.69" x2="325.40" y2="633.69" stroke="#000" stroke-width="1.3"/><text x="316.6" y="636.89" text-anchor="end" style="font-size:8.8px">0.25</text><line x1="321.2" y1="671.22" x2="325.40" y2="671.22" stroke="#000" stroke-width="1.3"/><text x="316.6" y="674.42" text-anchor="end" style="font-size:8.8px">0.00</text><line x1="332.90" y1="678.60" x2="332.90" y2="682.90" stroke="#000" stroke-width="1.3"/><text x="332.90" y="694.80" text-anchor="middle" style="font-size:8.8px">0</text><line x1="364.60" y1="678.60" x2="364.60" y2="682.90" stroke="#000" stroke-width="1.3"/><text x="364.60" y="694.80" text-anchor="middle" style="font-size:8.8px">12</text><line x1="396.30" y1="678.60" x2="396.30" y2="682.90" stroke="#000" stroke-width="1.3"/><text x="396.30" y="694.80" text-anchor="middle" style="font-size:8.8px">24</text><line x1="428.00" y1="678.60" x2="428.00" y2="682.90" stroke="#000" stroke-width="1.3"/><text x="428.00" y="694.80" text-anchor="middle" style="font-size:8.8px">36</text><line x1="459.70" y1="678.60" x2="459.70" y2="682.90" stroke="#000" stroke-width="1.3"/><text x="459.70" y="694.80" text-anchor="middle" style="font-size:8.8px">48</text><line x1="491.40" y1="678.60" x2="491.40" y2="682.90" stroke="#000" stroke-width="1.3"/><text x="491.40" y="694.80" text-anchor="middle" style="font-size:8.8px">60</text><text transform="translate(412.00,709.90) scale(0.767,1)" x="0" y="0" text-anchor="middle" style="font-size:11.3px;stroke:#262626;stroke-width:0.25">Time (months)</text><text x="335.9" y="643.90" style="font-size:9.25px"><tspan style="font-style:italic">P</tspan> <tspan style="font-weight:bold">=</tspan> .48</text><text x="332.7" y="662.90" style="font-size:8.6px">ELN 2024 favorable/intermediate, wild type</text><text x="332.7" y="673.50" style="font-size:8.9px"><tspan style="font-style:italic">KRAS, EZH2</tspan> (n <tspan style="font-weight:bold">=</tspan> 155)</text><path d="M333.70 521.10 H334.04 V523.16 H334.72 V525.22 H335.40 V527.28 H336.08 V529.34 H336.76 V531.40 H337.10 H337.64 V533.80 H338.71 V536.20 H339.79 V538.60 H340.86 V541.00 H341.40 H342.42 V543.30 H344.45 V545.60 H346.48 V547.90 H347.50 H348.15 V550.05 H349.45 V552.20 H350.75 V554.35 H352.05 V556.50 H352.70 H353.70 V558.83 H355.70 V561.17 H357.70 V563.50 H358.70 H359.28 V565.80 H360.45 V568.10 H361.62 V570.40 H362.20 H362.74 V572.55 H363.81 V574.70 H364.89 V576.85 H365.96 V579.00 H366.50 H367.11 V581.08 H368.33 V583.16 H369.55 V585.24 H370.77 V587.32 H371.99 V589.40 H372.60 H373.25 V591.58 H374.55 V593.75 H375.85 V595.92 H377.15 V598.10 H377.80 L380.00 598.60 H381.30 V600.30 H383.90 V602.00 H385.20 H387.35 V604.60 H389.50 H391.02 V606.75 H394.08 V608.90 H395.60 L405.10 608.90 H405.98 V610.65 H407.73 V612.40 H408.60 H409.17 V614.70 H410.30 V617.00 H411.43 V619.30 H412.00 H414.60 V621.10 H417.20 L420.00 621.20 H421.07 V623.35 H423.23 V625.50 H424.30 H426.05 V627.20 H427.80 H429.50 V628.90 H431.20 H431.65 V631.00 H432.10 L475.40 631.00" fill="none" stroke="#be113e" stroke-width="1.95" stroke-linejoin="miter"/><line x1="334.95" y1="523.20" x2="334.95" y2="526.60" stroke="#be113e" stroke-width="1"/><line x1="337.00" y1="529.41" x2="337.00" y2="532.81" stroke="#be113e" stroke-width="1"/><line x1="339.27" y1="534.54" x2="339.27" y2="537.94" stroke="#be113e" stroke-width="1"/><line x1="342.93" y1="541.03" x2="342.93" y2="544.43" stroke="#be113e" stroke-width="1"/><line x1="348.24" y1="547.42" x2="348.24" y2="550.82" stroke="#be113e" stroke-width="1"/><line x1="352.87" y1="554.99" x2="352.87" y2="558.39" stroke="#be113e" stroke-width="1"/><line x1="355.72" y1="558.32" x2="355.72" y2="561.72" stroke="#be113e" stroke-width="1"/><line x1="359.43" y1="563.24" x2="359.43" y2="566.64" stroke="#be113e" stroke-width="1"/><line x1="362.54" y1="569.39" x2="362.54" y2="572.79" stroke="#be113e" stroke-width="1"/><line x1="365.21" y1="574.72" x2="365.21" y2="578.12" stroke="#be113e" stroke-width="1"/><line x1="367.77" y1="579.47" x2="367.77" y2="582.87" stroke="#be113e" stroke-width="1"/><line x1="371.02" y1="585.01" x2="371.02" y2="588.41" stroke="#be113e" stroke-width="1"/><line x1="374.82" y1="591.42" x2="374.82" y2="594.82" stroke="#be113e" stroke-width="1"/><line x1="376.88" y1="594.86" x2="376.88" y2="598.26" stroke="#be113e" stroke-width="1"/><line x1="383.42" y1="599.13" x2="383.42" y2="602.53" stroke="#be113e" stroke-width="1"/><line x1="388.96" y1="602.57" x2="388.96" y2="605.97" stroke="#be113e" stroke-width="1"/><line x1="394.06" y1="606.11" x2="394.06" y2="609.51" stroke="#be113e" stroke-width="1"/><line x1="400.66" y1="607.20" x2="400.66" y2="610.60" stroke="#be113e" stroke-width="1"/><line x1="405.16" y1="607.26" x2="405.16" y2="610.66" stroke="#be113e" stroke-width="1"/><line x1="408.70" y1="610.90" x2="408.70" y2="614.30" stroke="#be113e" stroke-width="1"/><line x1="410.88" y1="615.32" x2="410.88" y2="618.72" stroke="#be113e" stroke-width="1"/><line x1="414.17" y1="618.35" x2="414.17" y2="621.75" stroke="#be113e" stroke-width="1"/><line x1="420.84" y1="620.34" x2="420.84" y2="623.74" stroke="#be113e" stroke-width="1"/><line x1="424.53" y1="623.91" x2="424.53" y2="627.31" stroke="#be113e" stroke-width="1"/><line x1="430.38" y1="626.79" x2="430.38" y2="630.19" stroke="#be113e" stroke-width="1"/><line x1="436.17" y1="629.30" x2="436.17" y2="632.70" stroke="#be113e" stroke-width="1"/><line x1="400" y1="607.1" x2="400" y2="610.6999999999999" stroke="#be113e" stroke-width="1.1"/><line x1="435.6" y1="629.2" x2="435.6" y2="632.8" stroke="#be113e" stroke-width="1.1"/><line x1="440.8" y1="629.2" x2="440.8" y2="632.8" stroke="#be113e" stroke-width="1.1"/><line x1="446" y1="629.2" x2="446" y2="632.8" stroke="#be113e" stroke-width="1.1"/><line x1="452" y1="629.2" x2="452" y2="632.8" stroke="#be113e" stroke-width="1.1"/><line x1="458" y1="629.2" x2="458" y2="632.8" stroke="#be113e" stroke-width="1.1"/><line x1="461.5" y1="629.2" x2="461.5" y2="632.8" stroke="#be113e" stroke-width="1.1"/><line x1="474.5" y1="629.2" x2="474.5" y2="632.8" stroke="#be113e" stroke-width="1.1"/><path d="M333.70 521.10 H334.12 V524.83 H334.95 V528.57 H335.78 V532.30 H336.20 H336.65 V534.90 H337.55 V537.50 H338.00 H338.28 V540.67 H338.85 V543.83 H339.42 V547.00 H339.70 H340.55 V550.50 H341.40 H342.70 V553.90 H344.00 H345.30 V558.30 H346.60 L355.30 558.30 H356.60 V561.70 H357.90 H359.60 V563.50 H361.30 H362.20 V566.90 H363.10 L370.90 566.90 H371.30 V571.20 H371.70 H373.45 V573.00 H375.20 H375.62 V576.90 H376.47 V580.80 H376.90 L383.50 580.80 L383.50 586.40 L388.70 586.40 L388.70 592.50 L399.20 592.50 L399.20 599.60 L412.20 599.60 L412.20 611.50 L444.20 611.50 L444.20 626.50 L475.40 626.50" fill="none" stroke="#134878" stroke-width="1.7" stroke-linejoin="miter"/><line x1="437.1" y1="609.9" x2="437.1" y2="613.1" stroke="#134878" stroke-width="1.0"/><line x1="453.7" y1="624.9" x2="453.7" y2="628.1" stroke="#134878" stroke-width="1.0"/><line x1="473.5" y1="624.9" x2="473.5" y2="628.1" stroke="#134878" stroke-width="1.0"/><line x1="474.5" y1="624.9" x2="474.5" y2="628.1" stroke="#134878" stroke-width="1.0"/></g>
</svg></body></html>
